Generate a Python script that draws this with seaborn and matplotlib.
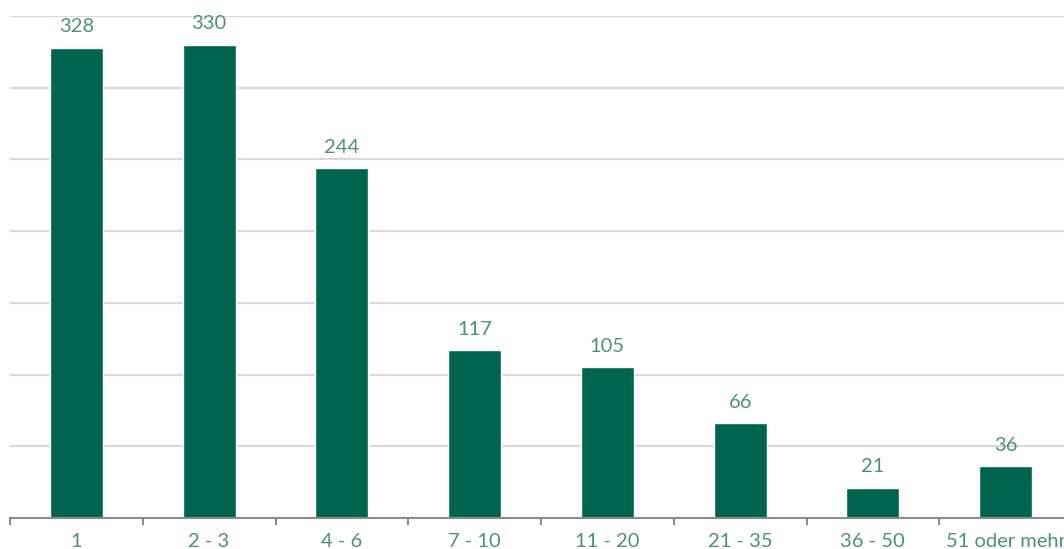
import numpy as np
import pandas as pd
import matplotlib
matplotlib.use('Agg')
import matplotlib.pyplot as plt
import seaborn as sns

# Data
categories = ['1', '2 - 3', '4 - 6', '7 - 10', '11 - 20', '21 - 35', '36 - 50', '51 oder mehr']
counts = [328, 330, 244, 117, 105, 66, 21, 36]

bar_color = '#00654f'
text_color = '#4f8f7e'

sns.set_style('white')
plt.rcParams['font.family'] = ['Lato', 'DejaVu Sans']

df = pd.DataFrame({'category': categories, 'count': counts})

fig = plt.figure(figsize=(10.64, 5.49), dpi=100)
ax = fig.add_axes([10 / 1064, 31 / 549, 1062 / 1064, 502 / 549])

sns.barplot(data=df, x='category', y='count', color=bar_color, width=0.4,
            saturation=1, ax=ax)

ax.set_ylim(0, 350)
ax.set_xlim(-0.5, len(categories) - 0.5)
ax.set_yticks(np.arange(0, 351, 50))
ax.yaxis.grid(True, color='#d9d9d9', linewidth=1.5)
ax.set_axisbelow(True)
ax.tick_params(axis='y', left=False, labelleft=False)

for side in ['top', 'right', 'left']:
    ax.spines[side].set_visible(False)
ax.spines['bottom'].set_color('#8c8c8c')
ax.spines['bottom'].set_linewidth(1.5)

# tick marks between categories, labels centred under bars
ax.set_xticks(np.arange(len(categories)))
ax.set_xticklabels(categories, color=text_color, fontsize=14.5)
ax.set_xticks(np.arange(len(categories) + 1) - 0.5, minor=True)
ax.tick_params(axis='x', which='major', bottom=False, length=0, pad=11)
ax.tick_params(axis='x', which='minor', bottom=True, direction='out',
               length=5, width=1.5, color='#8c8c8c')
ax.set_xlabel('')
ax.set_ylabel('')

for container in ax.containers:
    ax.bar_label(container, padding=9, color=text_color, fontsize=14.5)

fig.savefig('out.png', dpi=100)
